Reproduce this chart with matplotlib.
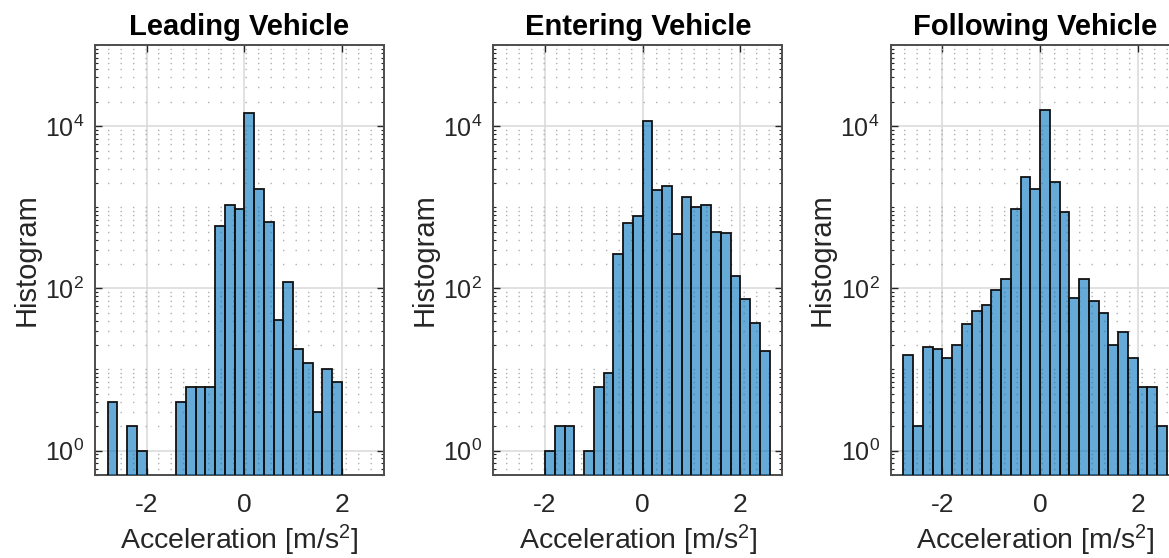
import numpy as np
import matplotlib
matplotlib.use("Agg")
import matplotlib.pyplot as plt
from matplotlib.ticker import LogLocator, FixedLocator, NullFormatter

plt.rcParams['font.family'] = ['Liberation Sans', 'DejaVu Sans']
plt.rcParams['mathtext.fontset'] = 'custom'
plt.rcParams['mathtext.rm'] = 'Liberation Sans'
plt.rcParams['mathtext.it'] = 'Liberation Sans:italic'
plt.rcParams['mathtext.bf'] = 'Liberation Sans:bold'
plt.rcParams['axes.unicode_minus'] = False

# Histogram bins are 0.2 m/s^2 wide
bin_width = 0.2

titles = ["Leading Vehicle", "Entering Vehicle", "Following Vehicle"]

leading_first_edge = -2.8
leading_counts = [4, 0, 2, 1, 0, 0, 0, 4, 6, 6, 6, 590, 1070, 960,
                  14500, 1670, 660, 41, 120, 18, 12, 3, 10, 7]

entering_first_edge = -2.0
entering_counts = [1, 2, 2, 0, 1, 6, 9, 264, 640, 770, 11500, 1620, 1810,
                   470, 1340, 1000, 1060, 490, 480, 144, 73, 37, 17]

following_first_edge = -2.8
following_counts = [15, 2, 19, 18, 14, 20, 36, 53, 63, 95, 130, 950, 2390,
                    1680, 15900, 2050, 865, 76, 130, 70, 49, 20, 29, 14,
                    6, 6, 2]

x_ticks = [-2, 0, 2]
y_ticks = [1, 100, 10000]
x_limits = (-3.06, 2.86)
y_limits = (0.5, 1e5)

series = [
    (leading_first_edge, leading_counts),
    (entering_first_edge, entering_counts),
    (following_first_edge, following_counts),
]

W, H = 1169, 558
fig = plt.figure(figsize=(W / 100, H / 100), dpi=100)

face = (0.0, 0.447, 0.741, 0.6)
axis_gray = '#262626'

lefts_px = [95, 493.3, 890.7]
ax_w_px = 289
ax_bottom_px = 475
ax_h_px = 430

for i, (first_edge, counts) in enumerate(series):
    ax = fig.add_axes([lefts_px[i] / W, (H - ax_bottom_px) / H,
                       ax_w_px / W, ax_h_px / H])
    counts = np.asarray(counts, dtype=float)
    edges = first_edge + bin_width * np.arange(len(counts))
    keep = counts > 0
    ax.set_yscale('log')
    ax.bar(edges[keep], counts[keep], width=bin_width, align='edge',
           bottom=1e-3, facecolor=face, edgecolor='#111111', linewidth=1.3,
           zorder=3)
    ax.set_xlim(*x_limits)
    ax.set_ylim(*y_limits)

    ax.xaxis.set_major_locator(FixedLocator(x_ticks))
    ax.yaxis.set_major_locator(FixedLocator(y_ticks))
    ax.yaxis.set_minor_locator(LogLocator(base=10, subs=np.arange(1, 10),
                                          numticks=50))
    ax.yaxis.set_minor_formatter(NullFormatter())
    ax.set_yticklabels([r'$\mathdefault{10^{0}}$', r'$\mathdefault{10^{2}}$',
                        r'$\mathdefault{10^{4}}$'])

    ax.set_axisbelow(True)
    ax.grid(True, which='major', color='#d9d9d9', linewidth=1.1, zorder=0)
    ax.grid(True, which='minor', axis='y', color='#b0b0b0', linewidth=1.0,
            linestyle=(0, (1, 8)), zorder=0)

    ax.tick_params(which='both', direction='in', top=True, right=True,
                   colors=axis_gray, labelcolor=axis_gray)
    ax.tick_params(which='major', length=5, width=1.0)
    ax.tick_params(axis='x', which='major', pad=13, labelsize=19)
    ax.tick_params(axis='y', which='major', pad=8, labelsize=18)
    ax.tick_params(which='minor', length=2.5, width=0.8)

    for sp in ax.spines.values():
        sp.set_color('#4d4d4d')
        sp.set_linewidth(1.4)

    ax.set_title(titles[i], fontsize=21, fontweight='bold', color='black',
                 pad=7)
    ax.set_xlabel(r'Acceleration [m/s$^{\mathdefault{2}}$]', fontsize=20.5,
                  color=axis_gray, labelpad=4)
    ax.set_ylabel('Histogram', fontsize=21, color=axis_gray, labelpad=3)

fig.savefig('out.png', dpi=100)
